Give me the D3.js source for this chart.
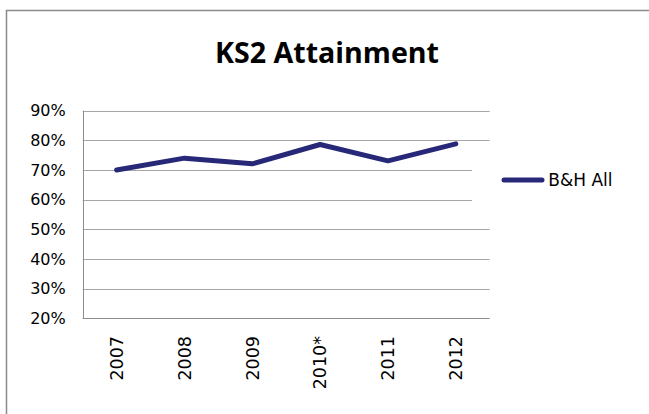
<!DOCTYPE html>
<html lang="en">
<head>
    <meta charset="utf-8">
    <title>KS2 Attainment</title>
    <style type="text/css">
        html, body { margin: 0; padding: 0; background: #fff; }
        .chart text { font-family: "DejaVu Sans", sans-serif; fill: #000; }
        .chart .title { font-family: "Open Sans", sans-serif; font-weight: 700; }
        .chart .grid line { stroke: #a6a6a6; stroke-width: 1; }
        .chart .axis-line { stroke: #8c8c8c; stroke-width: 1; }
    </style>
</head>
<body>
   <svg class="chart" width="649" height="414"></svg>

   <script src="https://d3js.org/d3.v7.min.js"></script>
   <script>
        // data
        var years = ['2007', '2008', '2009', '2010*', '2011', '2012'];
        var values = [0.700, 0.740, 0.721, 0.786, 0.731, 0.788];
        var yTicks = [0.2, 0.3, 0.4, 0.5, 0.6, 0.7, 0.8, 0.9];
        var seriesName = 'B&H All';
        var titleText = 'KS2 Attainment';

        var svg = d3.select('.chart'),
            width = +svg.attr('width'),
            height = +svg.attr('height'),
            plot = {left: 82.7, right: 489.7, top: 110.7, bottom: 318.3},
            lineColor = '#282878';

        // outer frame (runs off the right and bottom edges)
        svg.append('rect')
            .attr('x', 6.5).attr('y', 10.5)
            .attr('width', width).attr('height', height)
            .attr('fill', 'none')
            .attr('stroke', '#8a8a8a')
            .attr('stroke-width', 1.5);

        // scales
        var x = d3.scalePoint().domain(years).range([plot.left, plot.right]).padding(0.5),
            y = d3.scaleLinear().domain([0.2, 0.9]).range([plot.bottom, plot.top]);

        // title
        svg.append('text')
            .attr('class', 'title')
            .attr('x', 327).attr('y', 63.3)
            .attr('text-anchor', 'middle')
            .attr('font-size', 28)
            .attr('textLength', 224)
            .attr('lengthAdjust', 'spacingAndGlyphs')
            .text(titleText);

        // gridlines
        svg.append('g')
            .attr('class', 'grid')
            .selectAll('line')
            .data(yTicks.slice(1))
            .enter().append('line')
            .attr('x1', plot.left).attr('x2', plot.right)
            .attr('y1', function(d) { return Math.round(y(d)) + 0.5; })
            .attr('y2', function(d) { return Math.round(y(d)) + 0.5; });

        // axis lines
        svg.append('line').attr('class', 'axis-line')
            .attr('x1', Math.round(plot.left) + 0.5).attr('x2', Math.round(plot.left) + 0.5)
            .attr('y1', plot.top).attr('y2', Math.round(plot.bottom) + 0.5);
        svg.append('line').attr('class', 'axis-line')
            .attr('x1', plot.left).attr('x2', plot.right)
            .attr('y1', Math.round(plot.bottom) + 0.5).attr('y2', Math.round(plot.bottom) + 0.5);

        // y labels
        svg.append('g')
            .selectAll('text')
            .data(yTicks)
            .enter().append('text')
            .attr('x', 65.7)
            .attr('y', function(d) { return y(d); })
            .attr('dy', '0.36em')
            .attr('text-anchor', 'end')
            .attr('font-size', 16)
            .text(d3.format('.0%'));

        // x labels, rotated
        svg.append('g')
            .selectAll('text')
            .data(years)
            .enter().append('text')
            .attr('transform', function(d) { return 'translate(' + x(d) + ',336) rotate(-90)'; })
            .attr('dy', '0.36em')
            .attr('text-anchor', 'end')
            .attr('font-size', 17.5)
            .text(function(d) { return d; });

        // legend, white box hides the gridlines behind it
        var legend = svg.append('g');
        legend.append('rect')
            .attr('x', 472).attr('y', 155)
            .attr('width', 150).attr('height', 55)
            .attr('fill', '#fff');
        legend.append('line')
            .attr('x1', 504).attr('x2', 542)
            .attr('y1', 180).attr('y2', 180)
            .attr('stroke', lineColor)
            .attr('stroke-width', 5)
            .attr('stroke-linecap', 'round');
        legend.append('text')
            .attr('x', 548.3).attr('y', 180)
            .attr('dy', '0.36em')
            .attr('font-size', 17)
            .text(seriesName);

        // series line
        var line = d3.line()
            .x(function(d, i) { return x(years[i]); })
            .y(function(d) { return y(d); });

        svg.append('path')
            .datum(values)
            .attr('fill', 'none')
            .attr('stroke', lineColor)
            .attr('stroke-width', 5)
            .attr('stroke-linecap', 'round')
            .attr('stroke-linejoin', 'round')
            .attr('d', line);
   </script>
</body>
</html>
